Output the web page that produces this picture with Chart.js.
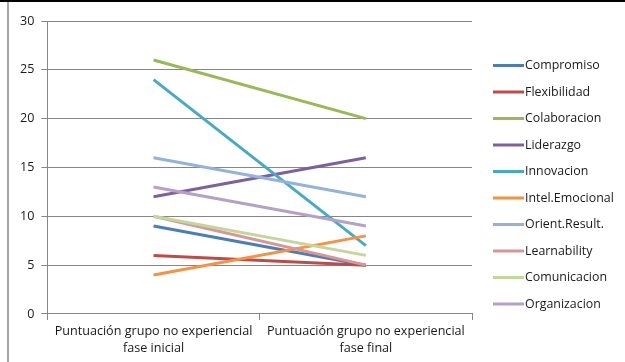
<!DOCTYPE html>
<html>
<head>
<meta charset="utf-8">
<script src="https://cdn.jsdelivr.net/npm/chart.js@4"></script>
<style>
  html, body { margin: 0; padding: 0; background: #fff; }
  #wrap { position: relative; width: 625px; height: 362px; }
  #topEdge { position: absolute; left: 0; top: 0; width: 625px; height: 2px; background: #000; }
  #leftEdge { position: absolute; left: 7px; top: 2px; width: 2px; height: 360px; background: #a6a6a6; }
  canvas { position: absolute; left: 0; top: 0; }
</style>
</head>
<body>
<div id="wrap">
  <canvas id="chart" width="625" height="362"></canvas>
  <div id="topEdge"></div>
  <div id="leftEdge"></div>
</div>
<script>
const categories = [
  ["Puntuación grupo no experiencial", "fase inicial"],
  ["Puntuación grupo no experiencial", "fase final"]
];
const seriesNames = ["Compromiso", "Flexibilidad", "Colaboracion", "Liderazgo", "Innovacion",
  "Intel.Emocional", "Orient.Result.", "Learnability", "Comunicacion", "Organizacion"];
const faseInicial = [9, 6, 26, 12, 24, 4, 16, 10, 10, 13];
const faseFinal = [5, 5, 20, 16, 7, 8, 12, 5, 6, 9];
const seriesColors = ["#4a7ebb", "#be4b48", "#98b954", "#7d60a0", "#46aac5",
  "#f69240", "#93b3dc", "#d99694", "#c3d69b", "#b3a2c7"];
const yTicks = [0, 5, 10, 15, 20, 25, 30];

const fontFamily = "'Open Sans', 'Liberation Sans', sans-serif";

// legend drawn at the right, Excel style (line sample + label)
const sideLegend = {
  id: "sideLegend",
  afterDraw(chart) {
    const ctx = chart.ctx;
    ctx.save();
    ctx.font = "12.4px " + fontFamily;
    ctx.textBaseline = "middle";
    ctx.textAlign = "left";
    chart.data.datasets.forEach((ds, i) => {
      const y = 65.5 + i * 26.5;
      ctx.strokeStyle = ds.borderColor;
      ctx.lineWidth = 3;
      ctx.beginPath();
      ctx.moveTo(493, y);
      ctx.lineTo(524, y);
      ctx.stroke();
      ctx.fillStyle = "#1a1a1a";
      ctx.fillText(ds.label, 525, y);
    });
    ctx.restore();
  }
};

new Chart(document.getElementById("chart"), {
  type: "line",
  data: {
    labels: categories,
    datasets: seriesNames.map((name, i) => ({
      label: name,
      data: [faseInicial[i], faseFinal[i]],
      borderColor: seriesColors[i],
      backgroundColor: seriesColors[i],
      borderWidth: 3,
      pointRadius: 0,
      tension: 0,
      order: -i
    }))
  },
  options: {
    responsive: false,
    animation: false,
    layout: { padding: { left: 13, right: 153, top: 21, bottom: 2 } },
    plugins: { legend: { display: false }, tooltip: { enabled: false } },
    scales: {
      x: {
        offset: true,
        grid: { offset: true, drawOnChartArea: false, tickLength: 6, color: "#868686" },
        border: { color: "#868686" },
        ticks: { color: "#1a1a1a", padding: 3, font: { family: fontFamily, size: 12.6, lineHeight: 1.35 }, maxRotation: 0 }
      },
      y: {
        min: 0,
        max: 30,
        afterBuildTicks: (axis) => { axis.ticks = yTicks.map((v) => ({ value: v })); },
        grid: { color: "#868686", tickLength: 6 },
        border: { color: "#868686" },
        ticks: { color: "#1a1a1a", padding: 7, font: { family: fontFamily, size: 12.6 } }
      }
    }
  },
  plugins: [sideLegend]
});
</script>
</body>
</html>
